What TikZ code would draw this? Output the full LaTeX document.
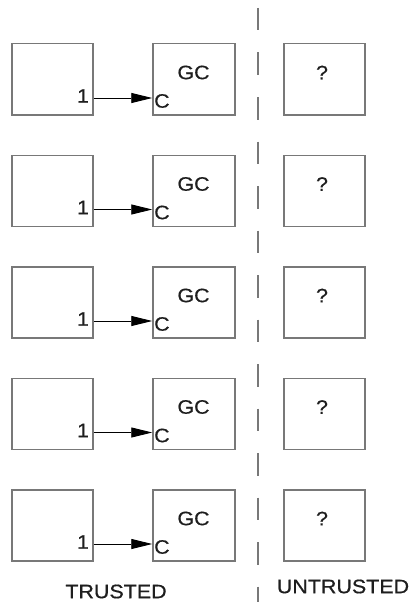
\documentclass[tikz,border=0pt]{standalone}
\usepackage{fontspec}
\setmainfont{Liberation Sans}[FakeStretch=1.1, FakeBold=0.6]
\usetikzlibrary{arrows.meta}
\definecolor{boxgray}{RGB}{120,120,120}
\definecolor{inkgray}{RGB}{30,30,30}
\begin{document}
\begin{tikzpicture}[x=1pt,y=-1pt,
  every node/.style={font=\fontsize{19.5}{19.5}\selectfont, text=inkgray, inner sep=0pt},
  cell/.style={draw=boxgray, line width=1.5pt, minimum height=71pt, anchor=north},
  arr/.style={draw=black, line width=0.9pt, -{Triangle[length=21pt,width=10pt]}},
  divider/.style={draw=boxgray, line width=1.5pt, dash pattern=on 22.5pt off 22pt}]
\useasboundingbox (0,0) rectangle (409,602);
% trust boundary
\coordinate (dtop) at (258,8);
\coordinate (dbot) at (258,602);
\draw[divider] (dtop) -- (dbot);
% one row per component
\foreach \t [count=\i] in {43,154.5,266,377.5,489}{
  \node[cell, minimum width=81pt] (L\i) at (52.5,\t) {};
  \node[cell, minimum width=82pt] (G\i) at (194,\t) {};
  \node[cell, minimum width=81pt] (U\i) at (324.5,\t) {};
  \node (gc\i) at (193.5,\t+29.5) {GC};
  \node (q\i) at (322,\t+29.5) {?};
  \node (one\i) at (83,\t+53) {1};
  \node[anchor=west] (c\i) at (154,\t+58) {C};
  \coordinate (p\i) at (93,\t+55);
  \draw[arr] (L\i.east |- p\i) -- (G\i.west |- p\i);
}
\node (trusted) at (116,591.5) {TRUSTED};
\node (untrusted) at (343,586.5) {UNTRUSTED};
\end{tikzpicture}
\end{document}
